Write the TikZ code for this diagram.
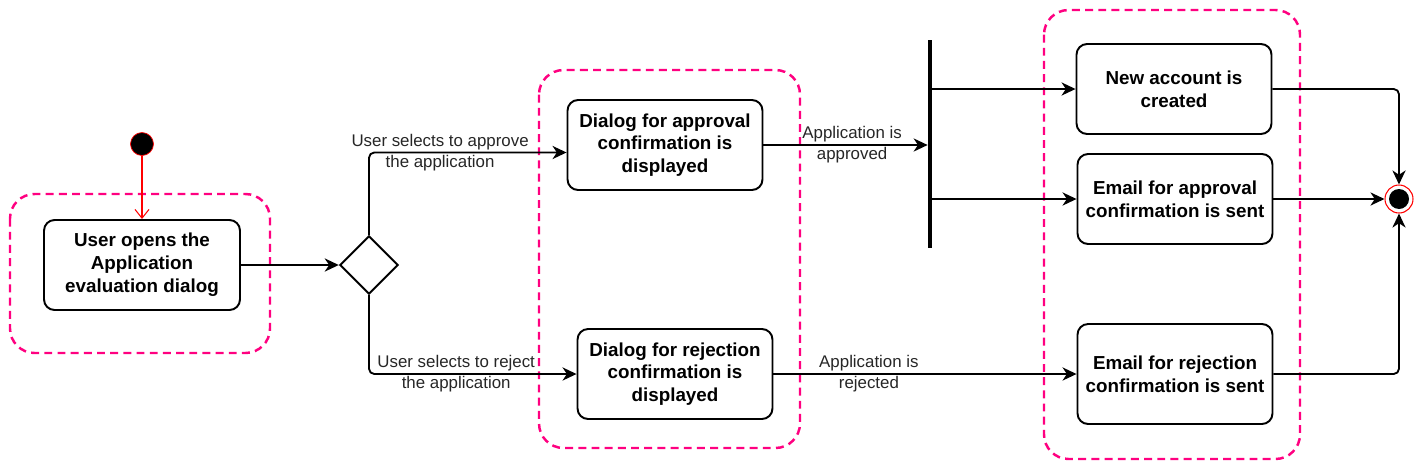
\documentclass[tikz,border=0pt]{standalone}
\usepackage{fontspec}
\setmainfont{Liberation Sans}
\usepackage{xcolor}
\usepackage{tikz}
\usetikzlibrary{arrows.meta,shapes.geometric,positioning}

\definecolor{grouppink}{HTML}{FF0080}

\begin{document}
\begin{tikzpicture}[
  x=0.02cm, y=-0.02cm,
  every node/.style={font=\fontsize{10.7}{13}\selectfont},
  action/.style={draw, line width=1.1pt, rounded corners=6pt, fill=white,
                 minimum width=3.9cm, minimum height=1.8cm, align=center,
                 font=\fontsize{10.7}{13}\selectfont\bfseries},
  group/.style={draw=grouppink, line width=1.4pt, dash pattern=on 4.5pt off 3pt,
                rounded corners=14pt},
  flow/.style={line width=1.05pt, -{Stealth[length=8pt,width=7.5pt,inset=2.5pt]}, rounded corners=3pt},
  lbl/.style={font=\fontsize{9.6}{12}\selectfont, text=black!85, align=center},
]

%% ── Frame: 1420 x 471 px ─────────────────────────────────────────────────────
\useasboundingbox (0,0) rectangle (1420,471);

%% ── Swimlane-like groups (dashed) ────────────────────────────────────────────
\draw[group] (10,194)   rectangle (270,353);
\draw[group] (539,70)   rectangle (800,448);
\draw[group] (1044,10)  rectangle (1300,459);

%% ── Start and first action ───────────────────────────────────────────────────
\node[circle, draw=red, fill=black, inner sep=0, minimum size=0.46cm] (start) at (142,144) {};
\node[action, minimum width=3.92cm] (opens) at (142,265) {User opens the\\Application\\evaluation dialog};

\draw[red, line width=0.6pt, -{Straight Barb[length=5pt,width=8pt]}] (start) -- (opens);

%% ── Decision ─────────────────────────────────────────────────────────────────
\node[diamond, draw, line width=1.1pt, fill=white, aspect=1, inner sep=0,
      minimum size=1.17cm] (choice) at (369,265) {};

\draw[flow] (opens) -- (choice);

%% ── Confirmation dialogs ─────────────────────────────────────────────────────
\node[action] (approve) at (665,145) {Dialog for approval\\confirmation is\\displayed};
\node[action] (reject)  at (675,374) {Dialog for rejection\\confirmation is\\displayed};

% the approve branch enters a little below the middle
\draw[flow] (choice.north) |- node[lbl, pos=0.68] {User selects to approve\\the application} ([yshift=-0.15cm]approve.west);
\draw[flow] (choice.south) |- node[lbl, pos=0.71] {User selects to reject\\the application} (reject.west);

%% ── Fork bar ─────────────────────────────────────────────────────────────────
\node[fill=black, inner sep=0, minimum width=0.08cm, minimum height=4.16cm] (fork) at (930,144) {};

\draw[flow] (approve.east) -- node[lbl, pos=0.54] {Application is\\approved} (approve.east -| fork.west);

%% ── Outcomes ─────────────────────────────────────────────────────────────────
\node[action] (account)   at (1174,89)  {New account is\\created};
\node[action] (mailok)    at (1175,199) {Email for approval\\confirmation is sent};
\node[action, minimum height=2.0cm] (mailno) at (1175,374) {Email for rejection\\confirmation is sent};

\draw[flow] (account.west -| fork.east) -- (account.west);
\draw[flow] (mailok.west -| fork.east)  -- (mailok.west);
\draw[flow] (reject.east) -- node[lbl, pos=0.315] {Application is\\rejected} (mailno.west);

%% ── Final state ──────────────────────────────────────────────────────────────
\node[circle, draw=red, line width=0.6pt, fill=white, inner sep=0, minimum size=0.56cm] (final) at (1399,199) {};
\node[circle, fill=black, inner sep=0, minimum size=0.4cm] (finaldot) at (final) {};

\draw[flow] (account.east) -| (final.north);
\draw[flow] (mailok.east)  -- (final.west);
\draw[flow] (mailno.east)  -| (final.south);

\end{tikzpicture}
\end{document}
